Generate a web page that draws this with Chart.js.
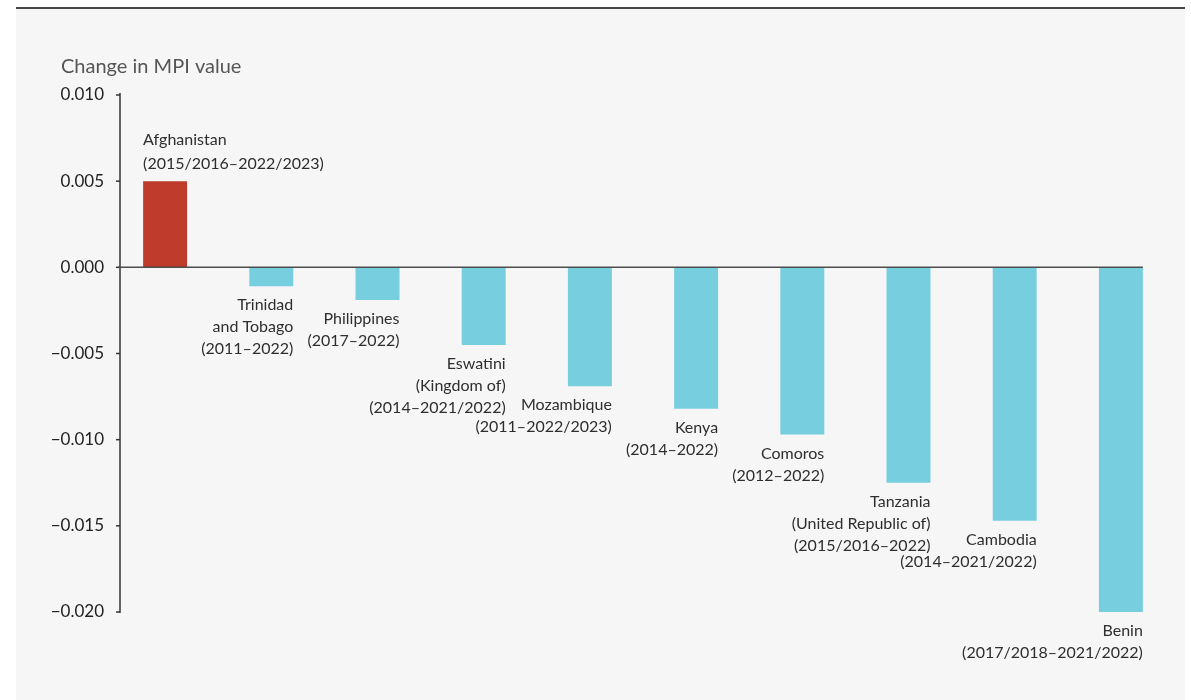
<!DOCTYPE html>
<html>
<head>
<meta charset="utf-8">
<title>Change in MPI value</title>
<script src="https://cdn.jsdelivr.net/npm/chart.js@4.4.1/dist/chart.umd.min.js"></script>
<style>
    body { margin: 0; background: #fff; }
    #panel {
        position: absolute; left: 16px; top: 7px; width: 1169px; height: 693px;
        background: #f6f6f6; border-top: 2px solid #474747;
    }
    #mpiChart { position: absolute; left: 0; top: 0; }
</style>
</head>
<body>
<div id="panel"></div>
<canvas id="mpiChart" width="1191" height="700"></canvas>
<script>

// country names, split the way they are printed under/over the bars
var countries = [
    ['Afghanistan'],
    ['Trinidad', 'and Tobago'],
    ['Philippines'],
    ['Eswatini', '(Kingdom of)'],
    ['Mozambique'],
    ['Kenya'],
    ['Comoros'],
    ['Tanzania', '(United Republic of)'],
    ['Cambodia'],
    ['Benin']
];

var periods = [
    '(2015/2016–2022/2023)',
    '(2011–2022)',
    '(2017–2022)',
    '(2014–2021/2022)',
    '(2011–2022/2023)',
    '(2014–2022)',
    '(2012–2022)',
    '(2015/2016–2022)',
    '(2014–2021/2022)',
    '(2017/2018–2021/2022)'
];

var mpiChange = [0.0050, -0.0011, -0.0019, -0.0045, -0.0069, -0.0082, -0.0097, -0.0125, -0.0147, -0.0200];

var yMin = -0.020;
var yMax = 0.010;
var yStep = 0.005;

var RED = '#bf3b2c';
var TEAL = '#77cedf';

function barColor(v) {
    return v > 0 ? RED : TEAL;
}

function formatTick(v) {
    if (Math.abs(v) < 1e-9) return '0.000';
    var s = Math.abs(v).toFixed(3);
    return v < 0 ? '\u2212' + s : s;
}

// axis line, little tick marks, zero line and the title
var axisPlugin = {
    id: 'axisLines',
    afterDatasetsDraw: function (chart) {
        var ctx = chart.ctx;
        var area = chart.chartArea;
        var y = chart.scales.y;
        var bars = chart.getDatasetMeta(0).data;
        var last = bars[bars.length - 1];
        var axisX = area.left + 8;

        ctx.save();
        ctx.strokeStyle = '#333';
        ctx.lineWidth = 1.5;
        ctx.beginPath();
        ctx.moveTo(axisX, area.top - 2);
        ctx.lineTo(axisX, area.bottom + 1);
        ctx.stroke();

        y.ticks.forEach(function (t) {
            var py = y.getPixelForValue(t.value);
            ctx.beginPath();
            ctx.moveTo(axisX - 4, py);
            ctx.lineTo(axisX, py);
            ctx.stroke();
        });

        var zero = y.getPixelForValue(0);
        ctx.strokeStyle = '#4d4d4d';
        ctx.beginPath();
        ctx.moveTo(axisX - 2, zero);
        ctx.lineTo(last.x + last.width / 2, zero);
        ctx.stroke();

        ctx.font = '20px Lato';
        ctx.fillStyle = '#555';
        ctx.textAlign = 'left';
        ctx.textBaseline = 'middle';
        ctx.fillText('Change in MPI value', 61, 67);
        ctx.restore();
    }
};

// country + period labels: above the positive bar, below the negative ones
var labelPlugin = {
    id: 'barLabels',
    afterDatasetsDraw: function (chart) {
        var ctx = chart.ctx;
        var bars = chart.getDatasetMeta(0).data;
        ctx.save();
        ctx.font = '16px Lato';
        ctx.fillStyle = '#2e2e2e';
        ctx.textBaseline = 'middle';
        for (var i = 0; i < bars.length; i++) {
            var bar = bars[i];
            var lines = countries[i].concat([periods[i]]);
            var half = bar.width / 2;
            var k;
            if (mpiChange[i] > 0) {
                ctx.textAlign = 'left';
                for (k = 0; k < lines.length; k++) {
                    ctx.fillText(lines[k], bar.x - half, bar.y - 17 - (lines.length - 1 - k) * 24);
                }
            } else {
                ctx.textAlign = 'right';
                for (k = 0; k < lines.length; k++) {
                    ctx.fillText(lines[k], bar.x + half, bar.y + 19 + k * 22);
                }
            }
        }
        ctx.restore();
    }
};

var ctx = document.getElementById('mpiChart').getContext('2d');
var mpiChart = new Chart(ctx, {
    type: 'bar',
    data: {
        labels: countries,
        datasets: [{
            data: mpiChange,
            backgroundColor: mpiChange.map(barColor),
            borderWidth: 0,
            barPercentage: 0.414,
            categoryPercentage: 1.0
        }]
    },
    options: {
        responsive: false,
        animation: false,
        devicePixelRatio: 1,
        layout: {
            padding: { left: 0, right: 17, top: 95, bottom: 88 }
        },
        plugins: {
            legend: { display: false },
            tooltip: { enabled: false },
            title: { display: false }
        },
        scales: {
            x: {
                display: false
            },
            y: {
                min: yMin,
                max: yMax,
                grid: { display: false, drawTicks: false },
                border: { display: false },
                ticks: {
                    stepSize: yStep,
                    padding: 8,
                    color: '#222',
                    font: { family: 'Lato', size: 17 },
                    callback: function (value) { return formatTick(value); }
                },
                afterFit: function (scale) { scale.width = 112; }
            }
        }
    },
    plugins: [axisPlugin, labelPlugin]
});
</script>
</body>
</html>
